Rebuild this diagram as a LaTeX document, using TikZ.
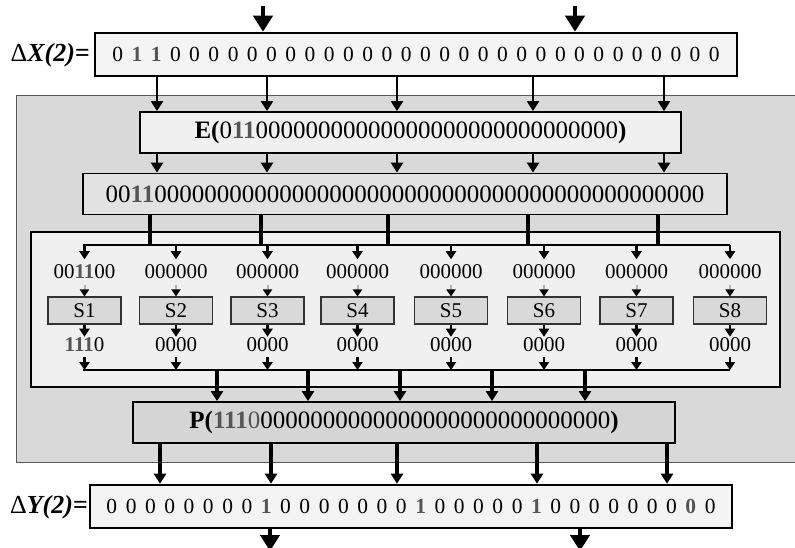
\documentclass[tikz,border=0pt]{standalone}
\usepackage{fontspec}
\setmainfont{Liberation Serif}
\usetikzlibrary{arrows.meta}

\definecolor{panelgray}{HTML}{D9D9D9}
\definecolor{innerfill}{HTML}{F0F0F0}
\definecolor{regfill}{HTML}{F4F4F4}
\definecolor{expfill}{HTML}{E2E2E2}
\definecolor{sboxfill}{HTML}{D9D9D9}
\definecolor{pfill}{HTML}{D5D5D5}
\definecolor{activebit}{HTML}{555555}

% spread a string of bits into equally wide cells
\makeatletter
\newcommand\spreadbits[2]{\@tfor\sb@bit:=#2\do{\makebox[#1][c]{\sb@bit}}}
\makeatother
% active (non-zero difference) bits
\newcommand\act[1]{{\bfseries\color{activebit}#1}}

\begin{document}
\begin{tikzpicture}[x=1pt,y=-1pt,
  reg/.style={draw, line width=2.6pt, fill=regfill, minimum width=642pt,
    minimum height=43pt, inner sep=0pt, font=\fontsize{21.5}{21.5}\selectfont},
  wide/.style={draw, line width=1.8pt, minimum height=41pt, inner sep=0pt,
    font=\fontsize{25}{25}\selectfont},
  sbox/.style={draw=black!80, line width=1.1pt, fill=sboxfill, minimum width=73pt,
    minimum height=27pt, inner sep=0pt, font=\fontsize{21}{21}\selectfont},
  inbits/.style={inner xsep=0pt, inner ysep=5.5pt, font=\fontsize{21}{21}\selectfont},
  outbits/.style={inner xsep=0pt, inner ysep=1pt, font=\fontsize{21}{21}\selectfont},
  dlabel/.style={anchor=east, inner sep=0pt, font=\fontsize{26}{26}\selectfont},
  flow/.style={line width=2.8pt, -{Triangle[length=10pt,width=12pt]}},
  feed/.style={line width=3.2pt},
  bus/.style={line width=2pt},
  tap/.style={line width=2.2pt, -{Triangle[length=8pt,width=10pt]}},
  faint/.style={line width=2pt, draw=black!30, -{Triangle[length=7pt,width=9pt,color=black]}},
  bigflow/.style={line width=4.5pt, -{Triangle[length=16pt,width=19pt]}}
]
\useasboundingbox (0,0) rectangle (795,547);
\fill[white] (0,0) rectangle (795,547);

% round function panel
\draw[fill=panelgray, draw=black!65, line width=1pt] (16,95) rectangle (801,462);

% input difference
\node[reg] (dx) at (416,54.5)
  {\spreadbits{19.25pt}{0{\act{1}}{\act{1}}00000000000000000000000000000}};
\node[dlabel] (dxl) at (90,55) {Δ{\bfseries\itshape X(2)=}};

% expansion
\node[wide, fill=innerfill, minimum width=541pt] (ex) at (410.5,132.5)
  {\textbf{E(}0\act{11}00000000000000000000000000000\textbf{)}};
\node[wide, fill=expfill, minimum width=644pt] (xe) at (405,194)
  {00\act{11}00000000000000000000000000000000000000000000};

% S-box layer
\node[draw, fill=innerfill, line width=1.8pt, minimum width=749pt,
  minimum height=155pt, inner sep=0pt] (bank) at (405.5,309.5) {};

% permutation
\node[wide, fill=pfill, minimum width=542pt] (pp) at (404,422.5)
  {\textbf{P(}\act{111}\textcolor{activebit}{0}0000000000000000000000000000\textbf{)}};

% output difference
\node[reg] (dy) at (411,506.5)
  {\spreadbits{19.3pt}{00000000{\act{1}}0000000{\act{1}}00000{\act{1}}0000000{\act{0}}0}};
\node[dlabel] (dyl) at (88,507) {Δ{\bfseries\itshape Y(2)=}};

% entry and exit arrows
\coordinate (inA) at (263,6);
\coordinate (inB) at (575,6);
\coordinate (outA) at (270,551);
\coordinate (outB) at (580,551);
\draw[bigflow] (inA) -- (dx.north -| inA);
\draw[bigflow] (inB) -- (dx.north -| inB);
\draw[bigflow] (dy.south -| outA) -- (outA);
\draw[bigflow] (dy.south -| outB) -- (outB);

% dx -> E -> expanded
\foreach \x [count=\k] in {157,267,397,533,664} {
  \coordinate (ea\k) at (\x,0);
  \draw[flow] (dx.south -| ea\k) -- (ex.north -| ea\k);
  \draw[flow] (ex.south -| ea\k) -- (xe.north -| ea\k);
}

% distribution bus into the S-boxes
\coordinate (bt) at (83,245);
\coordinate (btR) at (730,245);
\coordinate (bb) at (83,370);
\coordinate (bbR) at (730,370);
\foreach \x [count=\k] in {150,261,388,528,658} {
  \coordinate (fa\k) at (\x,0);
  \draw[feed] (xe.south -| fa\k) -- (bt -| fa\k);
}
\draw[bus] (bt) -- (btR);
\draw[bus] (bb) -- (bbR);

\foreach \i/\x/\inp/\outp in {
  1/84.5/00\act{11}00/\act{111}0,
  2/176/000000/0000,
  3/267.5/000000/0000,
  4/357.5/000000/0000,
  5/451/000000/0000,
  6/544/000000/0000,
  7/636.5/000000/0000,
  8/730/000000/0000} {
  \node[inbits] (in\i) at (\x,272) {\inp};
  \node[sbox] (s\i) at (\x,310.5) {S\i};
  \node[outbits] (out\i) at (\x,345) {\outp};
  \draw[tap] (bt -| in\i) -- (in\i.north);
  \draw[faint] (in\i.south) -- (s\i.north);
  \draw[tap] (s\i.south) -- (out\i.north);
  \draw[tap, shorten <=4pt] (out\i.south) -- (bb -| out\i);
}

% S-box outputs -> P
\foreach \x [count=\k] in {217,308,400,492,585} {
  \coordinate (pa\k) at (\x,0);
  \draw[flow, line width=3.2pt] (bb -| pa\k) -- (pp.north -| pa\k);
}

% P -> output difference
\foreach \x [count=\k] in {160,271,397,537,667} {
  \coordinate (ya\k) at (\x,0);
  \draw[flow, line width=3.2pt] (pp.south -| ya\k) -- (dy.north -| ya\k);
}
\end{tikzpicture}
\end{document}
